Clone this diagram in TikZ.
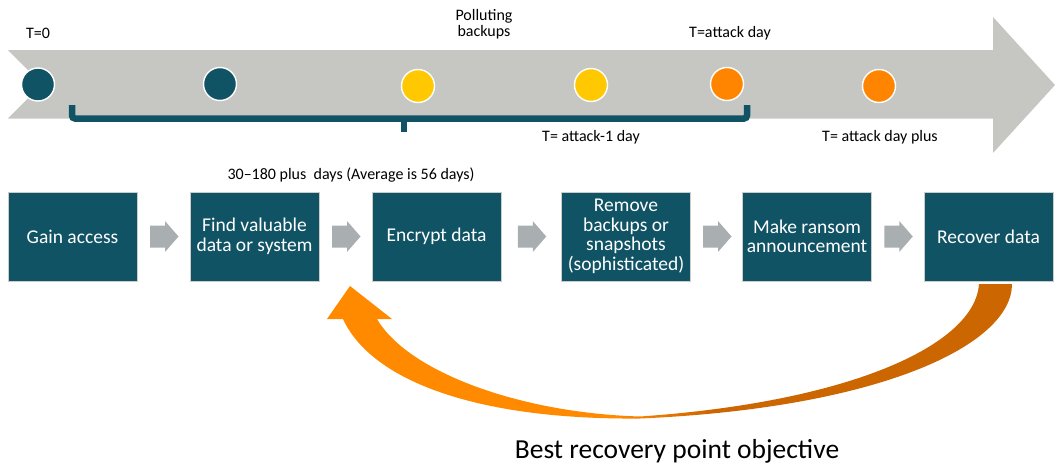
\documentclass[tikz,border=0pt]{standalone}
\usepackage{fontspec}
\setmainfont{Carlito}
\usetikzlibrary{calc}
\definecolor{teal}{HTML}{105365}
\definecolor{band}{HTML}{C6C7C2}
\definecolor{stepgray}{HTML}{A9AEB1}
\definecolor{dotyellow}{HTML}{FFC800}
\definecolor{dotorange}{HTML}{FF8500}
\definecolor{rpoA}{HTML}{FF8A00}
\definecolor{rpoB}{HTML}{CC6600}
\pgfdeclarehorizontalshading{rposhade}{100bp}{color(0bp)=(rpoA); color(46bp)=(rpoA); color(53bp)=(rpoB); color(100bp)=(rpoB)}
\tikzset{
  dot/.style={circle, minimum size=33pt, inner sep=0pt, draw=white, line width=1.4pt},
  stage/.style={rectangle, fill=teal, draw=black!20, line width=0.8pt, text=white,
    minimum width=129pt, minimum height=89pt, inner sep=0pt, align=center,
    font=\fontsize{19.5}{19.5}\selectfont},
  label/.style={font=\fontsize{16}{16.5}\selectfont, align=center, inner sep=0pt},
  bracket/.style={draw=teal, line width=6.5pt, rounded corners=3pt},
  stepgap/.style={fill=stepgray}
}
\begin{document}
\begin{tikzpicture}[x=1pt,y=-1pt]
\useasboundingbox (0,0) rectangle (1055,466);

% timeline band with notched tail and arrow head
\fill[band] (8,50) -- (993,50) -- (993,17) -- (1055,85) -- (993,153) -- (993,118.5)
  -- (8,118.5) -- (42,84.25) -- cycle;

% bracket spanning the dwell time
\draw[bracket] (72,105) -- (72,118.5) -- (747,118.5) -- (747,105);
\draw[draw=teal, line width=6.5pt] (404,118.5) -- (404,132);

% timeline milestones
\node[dot, fill=teal]       (d1) at (38,84.5) {};
\node[dot, fill=teal]       (d2) at (220,84) {};
\node[dot, fill=dotyellow]  (d3) at (418,86) {};
\node[dot, fill=dotyellow]  (d4) at (591,85) {};
\node[dot, fill=dotorange]  (d5) at (727,84) {};
\node[dot, fill=dotorange]  (d6) at (879,86) {};

% timeline labels
\node[label] (t0)   at (38,33)   {T=0};
\node[label] (tpol) at (484,24)  {Polluting\\backups};
\node[label] (tday) at (730,33)  {T=attack day};
\node[label] (tpre) at (591,137) {T= attack-1 day};
\node[label] (tpost) at (880,137) {T= attack day plus};
\node[label] (dwell) at (351,175) {30–180 plus\ \ days (Average is 56 days)};

% attack stages
\node[stage] (b1) at (72.5,236.5)  {Gain access};
\node[stage] (b2) at (254.5,236.5) {Find valuable\\data or system};
\node[stage] (b3) at (436.5,236.5) {Encrypt data};
\node[stage] (b4) at (626,236.5)   {Remove\\backups or\\snapshots\\(sophisticated)};
\node[stage] (b5) at (807,236.5)   {Make ransom\\announcement};
\node[stage] (b6) at (988.5,236.5) {Recover data};

% block arrows between stages
\foreach \a/\b in {b1/b2, b2/b3, b3/b4, b4/b5, b5/b6}{
  \coordinate (m) at ($(\a.east)!0.5!(\b.west)$);
  \fill[stepgap] ($(m)+(-13.5,-11)$) -- ($(m)+(1.5,-11)$) -- ($(m)+(1.5,-15.5)$)
    -- ($(m)+(15,0)$) -- ($(m)+(1.5,15.5)$) -- ($(m)+(1.5,11)$) -- ($(m)+(-13.5,11)$) -- cycle;
}

% recovery-point arrow from the last stage back to before encryption
\coordinate (rpoOuter) at (1012,284);
\coordinate (rpoInner) at (979,284);
\coordinate (rpoLow)   at (640,418.5);
\coordinate (rpoLowIn) at (640,416.5);
\coordinate (rpoTip)   at (350,286);
\shade[shading=rposhade]
  (rpoOuter) .. controls (1012,345) and (880,408) .. (rpoLow)
  .. controls (470,420) and (370,378) .. (343,319)
  -- (327,319) -- (rpoTip) -- (392,319) -- (377,319)
  .. controls (408,372) and (520,413) .. (rpoLowIn)
  .. controls (850,402) and (975,345) .. (rpoInner) -- cycle;

\node[font=\fontsize{27.5}{30}\selectfont, inner sep=0pt] (rpo) at (677,451) {Best recovery point objective};
\end{tikzpicture}
\end{document}
